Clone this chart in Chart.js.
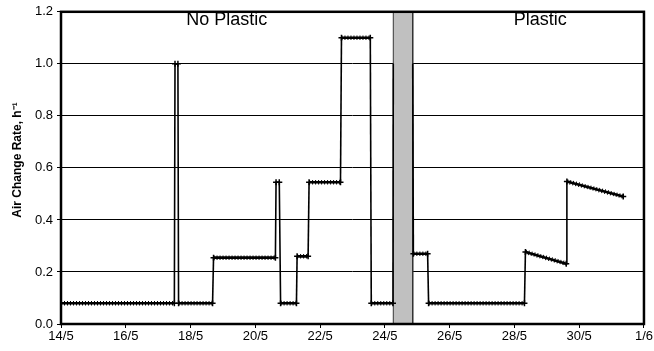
<!DOCTYPE html>
<html>
<head>
<meta charset="utf-8">
<script src="https://cdn.jsdelivr.net/npm/chart.js@4"></script>
<style>
  html, body { margin: 0; padding: 0; background: #fff; }
  #wrap { width: 654px; height: 351px; }
</style>
</head>
<body>
<div id="wrap"><canvas id="plot" width="654" height="351"></canvas></div>
<script>
// corners of the stepped trace (day of May, air change rate h-1); null = gap at the band
const days  = [14.0, 17.50, 17.52, 17.61, 17.63, 18.68, 18.71, 20.62, 20.64, 20.74, 20.78, 21.27, 21.29,
               21.63, 21.66, 22.63, 22.66, 23.55, 23.58, 24.25, 24.26, null, 24.86, 24.88, 25.32, 25.35,
               28.31, 28.34, 29.60, 29.62, 31.36];
const rates = [0.08, 0.08, 1.00, 1.00, 0.08, 0.08, 0.255, 0.255, 0.545, 0.545, 0.08, 0.08, 0.26,
               0.26, 0.545, 0.545, 1.10, 1.10, 0.08, 0.08, 1.00, null, 1.00, 0.27, 0.27, 0.08,
               0.08, 0.277, 0.232, 0.548, 0.49];

// grey period between the two tests
const bandDays  = [24.26, 24.26, 24.86, 24.86];
const bandRates = [0, 1.2, 1.2, 0];

const xTickLabels = ['14/5', '16/5', '18/5', '20/5', '22/5', '24/5', '26/5', '28/5', '30/5', '1/6'];
const notes     = ['No Plastic', 'Plastic'];
const noteDays  = [19.12, 28.8];
const noteRate  = 1.17;
const yTitle    = 'Air Change Rate, h\u207B\u00B9';

const pts = (xs, ys) => xs.map((x, i) => x === null ? {x: NaN, y: null} : {x: x, y: ys[i]});
const isFlat = ctx => Math.abs(ctx.p1.parsed.x - ctx.p0.parsed.x) > 0.1;

const frame = {
    id: 'frame',
    afterDatasetsDraw(chart) {
        const {ctx, chartArea: a, scales} = chart;
        ctx.save();
        ctx.font = '18px "Liberation Sans", Arial, sans-serif';
        ctx.fillStyle = '#000';
        ctx.textAlign = 'center';
        ctx.textBaseline = 'middle';
        notes.forEach((t, i) => ctx.fillText(t, scales.x.getPixelForValue(noteDays[i]), scales.y.getPixelForValue(noteRate)));
        ctx.strokeStyle = '#000';
        ctx.lineWidth = 2.5;
        ctx.strokeRect(a.left, a.top, a.right - a.left, a.bottom - a.top);
        // y title
        ctx.translate(18, 160);
        ctx.rotate(-Math.PI / 2);
        ctx.font = 'bold 12px "Liberation Sans", Arial, sans-serif';
        ctx.fillText(yTitle, 0, 0);
        ctx.restore();
    }
};

const ctx = document.getElementById('plot').getContext('2d');
const myChart = new Chart(ctx, {
    type: 'line',
    data: {
        datasets: [{
            // dense markers look
            data: pts(days, rates),
            borderColor: '#000',
            borderWidth: 4.5,
            borderDash: [1, 2],
            borderCapStyle: 'butt',
            pointRadius: 0,
            segment: {
                borderColor: c => isFlat(c) ? '#000' : 'rgba(0,0,0,0)'
            },
            order: 0
        }, {
            data: pts(days, rates),
            borderColor: '#000',
            borderWidth: 1.6,
            pointStyle: 'cross',
            pointRadius: c => (c.raw && c.raw.x > 24 && c.raw.x < 25 && c.raw.y > 0.9) ? 0 : 3,
            pointBorderWidth: 1.5,
            pointBorderColor: '#000',
            segment: {
                borderWidth: c => isFlat(c) ? 2.6 : 1.6
            },
            order: 1
        }, {
            data: pts(bandDays, bandRates),
            borderColor: '#333',
            borderWidth: 1,
            backgroundColor: '#c0c0c0',
            fill: 'origin',
            pointRadius: 0,
            order: 2
        }]
    },
    options: {
        responsive: false,
        animation: false,
        layout: { padding: { top: 11, right: 10, left: 0, bottom: 0 } },
        plugins: { legend: { display: false }, tooltip: { enabled: false } },
        scales: {
            x: {
                type: 'linear',
                min: 14, max: 32,
                afterFit: s => { s.height = 27; },
                afterBuildTicks: s => { s.ticks = xTickLabels.map((l, i) => ({value: 14 + 2 * i})); },
                ticks: {
                    callback: (v, i) => xTickLabels[i],
                    color: '#000',
                    font: { family: '"Liberation Sans", Arial', size: 13 },
                    padding: 1,
                    maxRotation: 0
                },
                grid: { drawOnChartArea: false, color: '#000', tickLength: 4 },
                border: { display: false }
            },
            y: {
                min: 0, max: 1.2,
                afterFit: s => { s.width = 61; },
                ticks: {
                    stepSize: 0.2,
                    callback: v => v.toFixed(1),
                    color: '#000',
                    font: { family: '"Liberation Sans", Arial', size: 13 },
                    padding: 4
                },
                grid: { color: '#000', lineWidth: 1, tickLength: 4 },
                border: { display: false }
            }
        }
    },
    plugins: [frame]
});
</script>
</body>
</html>
